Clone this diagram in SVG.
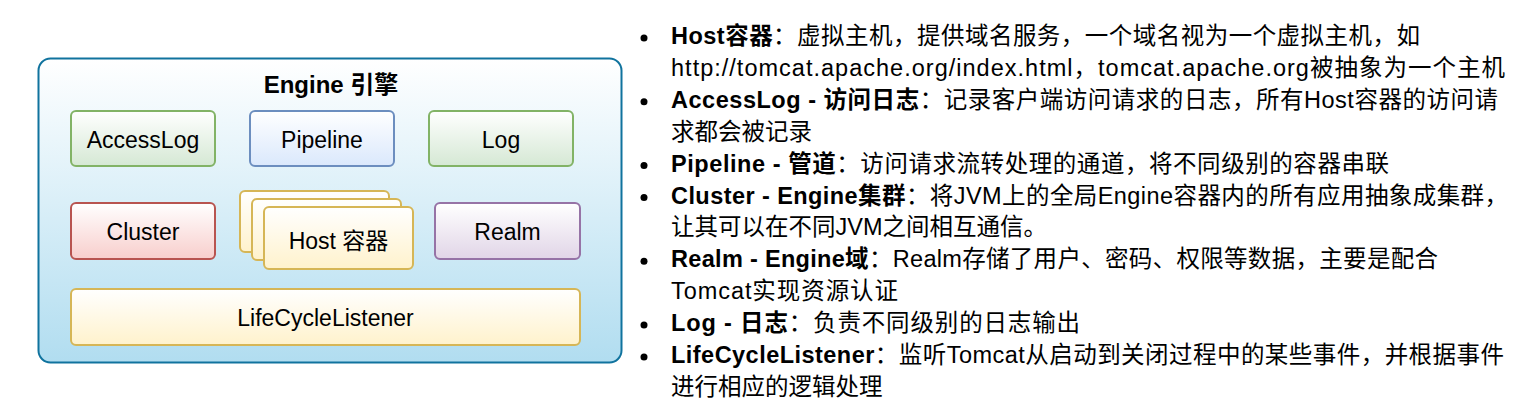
<svg xmlns="http://www.w3.org/2000/svg" width="1524" height="406" viewBox="0 0 1524 406">
  <defs>
    <linearGradient id="gOuter" x1="0" y1="0" x2="0" y2="1">
      <stop offset="0" stop-color="#ffffff"/>
      <stop offset="1" stop-color="#b1ddf0"/>
    </linearGradient>
    <linearGradient id="gGreen" x1="0" y1="0" x2="0" y2="1">
      <stop offset="0" stop-color="#ffffff"/>
      <stop offset="1" stop-color="#d5e8d4"/>
    </linearGradient>
    <linearGradient id="gBlue" x1="0" y1="0" x2="0" y2="1">
      <stop offset="0" stop-color="#ffffff"/>
      <stop offset="1" stop-color="#dae8fc"/>
    </linearGradient>
    <linearGradient id="gRed" x1="0" y1="0" x2="0" y2="1">
      <stop offset="0" stop-color="#ffffff"/>
      <stop offset="1" stop-color="#f8cecc"/>
    </linearGradient>
    <linearGradient id="gPurple" x1="0" y1="0" x2="0" y2="1">
      <stop offset="0" stop-color="#ffffff"/>
      <stop offset="1" stop-color="#e1d5e7"/>
    </linearGradient>
    <linearGradient id="gYellow" x1="0" y1="0" x2="0" y2="1">
      <stop offset="0" stop-color="#ffffff"/>
      <stop offset="1" stop-color="#fff2cc"/>
    </linearGradient>
  </defs>
  <style>
    .lbl { font-family: "Liberation Sans", "Noto Sans CJK SC", sans-serif; font-size: 23px; fill: #000; text-anchor: middle; }
    .ttl { font-family: "Liberation Sans", "Noto Sans CJK SC", sans-serif; font-size: 24px; font-weight: bold; fill: #000; text-anchor: middle; }
    .box { stroke-width: 2; }
    .green { fill: url(#gGreen); stroke: #82b366; }
    .blue { fill: url(#gBlue); stroke: #6c8ebf; }
    .red { fill: url(#gRed); stroke: #b85450; }
    .purple { fill: url(#gPurple); stroke: #9673a6; }
    .yellow { fill: url(#gYellow); stroke: #d6b656; }
    .desc { font-family: "Liberation Sans", "Noto Sans CJK SC", sans-serif; font-size: 23.5px; fill: #000; }
    .b { font-weight: bold; }
  </style>

  <g id="engine">
    <rect x="38.5" y="58.5" width="583" height="304" rx="12" fill="url(#gOuter)" stroke="#10739e" stroke-width="2"/>
    <text class="ttl" x="331" y="93">Engine 引擎</text>
  </g>

  <g id="accesslog">
    <rect class="box green" x="71" y="111" width="144" height="55" rx="5"/>
    <text class="lbl" x="143" y="148">AccessLog</text>
  </g>
  <g id="pipeline">
    <rect class="box blue" x="250" y="111" width="144" height="55" rx="5"/>
    <text class="lbl" x="322" y="148">Pipeline</text>
  </g>
  <g id="log">
    <rect class="box green" x="429" y="111" width="144" height="55" rx="5"/>
    <text class="lbl" x="501" y="148">Log</text>
  </g>
  <g id="cluster">
    <rect class="box red" x="71" y="203" width="144" height="56" rx="5"/>
    <text class="lbl" x="143" y="240">Cluster</text>
  </g>
  <g id="host">
    <rect class="box yellow" x="240" y="191" width="149" height="61" rx="5"/>
    <rect class="box yellow" x="252" y="199" width="149" height="61" rx="5"/>
    <rect class="box yellow" x="264" y="207" width="149" height="62" rx="5"/>
    <text class="lbl" x="338.5" y="249">Host 容器</text>
  </g>
  <g id="realm">
    <rect class="box purple" x="435" y="203" width="145" height="56" rx="5"/>
    <text class="lbl" x="507.5" y="240">Realm</text>
  </g>
  <g id="lifecyclelistener">
    <rect class="box yellow" x="71" y="289" width="509" height="56" rx="5"/>
    <text class="lbl" x="325.5" y="326">LifeCycleListener</text>
  </g>

  <g id="connectors"/>

  <g id="description">
    <g fill="#000">
      <circle cx="644" cy="38" r="3.5"/>
      <circle cx="644" cy="101.8" r="3.5"/>
      <circle cx="644" cy="165.6" r="3.5"/>
      <circle cx="644" cy="197.5" r="3.5"/>
      <circle cx="644" cy="261.3" r="3.5"/>
      <circle cx="644" cy="325.1" r="3.5"/>
      <circle cx="644" cy="357" r="3.5"/>
    </g>
    <text class="desc" x="671" y="44" textLength="749" lengthAdjust="spacing"><tspan class="b">Host容器</tspan>：虚拟主机，提供域名服务，一个域名视为一个虚拟主机，如</text>
    <text class="desc" x="671" y="75.9" textLength="834" lengthAdjust="spacing">http://tomcat.apache.org/index.html，tomcat.apache.org被抽象为一个主机</text>
    <text class="desc" x="671" y="107.8" textLength="827" lengthAdjust="spacing"><tspan class="b">AccessLog - 访问日志</tspan>：记录客户端访问请求的日志，所有Host容器的访问请</text>
    <text class="desc" x="671" y="139.7">求都会被记录</text>
    <text class="desc" x="671" y="171.6" textLength="718" lengthAdjust="spacing"><tspan class="b">Pipeline - 管道</tspan>：访问请求流转处理的通道，将不同级别的容器串联</text>
    <text class="desc" x="671" y="203.5" textLength="837" lengthAdjust="spacing"><tspan class="b">Cluster - Engine集群</tspan>：将JVM上的全局Engine容器内的所有应用抽象成集群，</text>
    <text class="desc" x="671" y="235.4">让其可以在不同JVM之间相互通信。</text>
    <text class="desc" x="671" y="267.3" textLength="767" lengthAdjust="spacing"><tspan class="b">Realm - Engine域</tspan>：Realm存储了用户、密码、权限等数据，主要是配合</text>
    <text class="desc" x="671" y="299.2" textLength="227" lengthAdjust="spacing">Tomcat实现资源认证</text>
    <text class="desc" x="671" y="331.1" textLength="409" lengthAdjust="spacing"><tspan class="b">Log - 日志</tspan>：负责不同级别的日志输出</text>
    <text class="desc" x="671" y="363" textLength="833" lengthAdjust="spacing"><tspan class="b">LifeCycleListener</tspan>：监听Tomcat从启动到关闭过程中的某些事件，并根据事件</text>
    <text class="desc" x="671" y="394.9">进行相应的逻辑处理</text>
  </g>
</svg>
